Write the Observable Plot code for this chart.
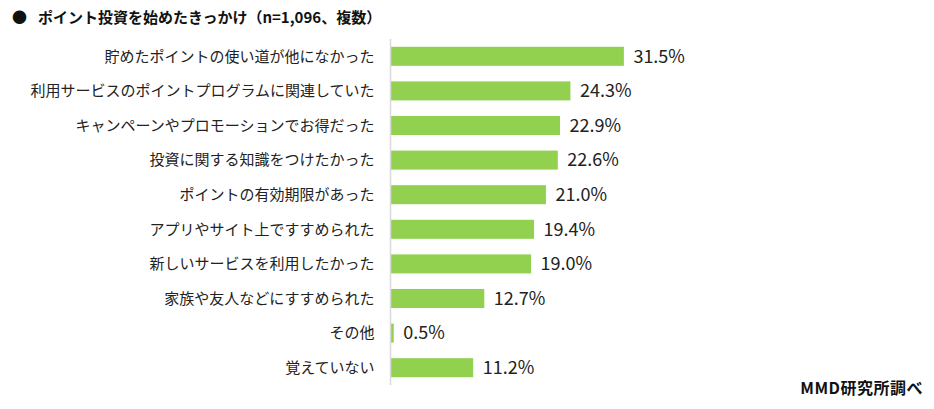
<!DOCTYPE html>
<html><head><meta charset="utf-8">
<script src="https://cdn.jsdelivr.net/npm/d3@7"></script>
<script src="https://cdn.jsdelivr.net/npm/@observablehq/plot@0.6"></script>
<style>
body{margin:0;background:#fff;font-family:"Noto Sans CJK JP",sans-serif;}
#wrap{position:relative;width:934px;height:409px;}
#title{position:absolute;left:12px;top:6px;font-size:15px;font-weight:bold;color:#111;white-space:nowrap;}
#title .b{display:inline-block;width:26px;}
#cap{position:absolute;right:11px;top:375px;font-size:16px;font-weight:bold;color:#111;letter-spacing:0.5px;}
</style></head><body>
<div id="wrap"><div id="chart"></div>
<div id="title"><span class="b">●</span>ポイント投資を始めたきっかけ（n=1,096、複数）</div>
<div id="cap">MMD研究所調べ</div></div>
<script>
const categories = ["貯めたポイントの使い道が他になかった","利用サービスのポイントプログラムに関連していた","キャンペーンやプロモーションでお得だった","投資に関する知識をつけたかった","ポイントの有効期限があった","アプリやサイト上ですすめられた","新しいサービスを利用したかった","家族や友人などにすすめられた","その他","覚えていない"];
const values = [31.5,24.3,22.9,22.6,21.0,19.4,19.0,12.7,0.5,11.2];
const data = categories.map((c,i)=>({cat:c,v:values[i]}));
const chart = Plot.plot({
  width:934, height:409,
  marginLeft:390, marginRight:247, marginTop:39, marginBottom:24,
  style:{fontFamily:'"Noto Sans CJK JP",sans-serif', color:"#222"},
  x:{domain:[0,40], axis:null},
  y:{domain:categories, paddingInner:0.45, paddingOuter:0.225, round:false, label:null},
  marks:[
    Plot.axisY({tickSize:0, tickPadding:16, fontSize:15, label:null, fill:"#222"}),
    Plot.barX(data,{x:"v", y:"cat", fill:"#92d050"}),
    Plot.ruleX([0],{stroke:"#d9d9d9", strokeWidth:1.5}),
    Plot.text(data,{x:"v", y:"cat", text:d=>d.v.toFixed(1)+"%", textAnchor:"start", dx:9, fontSize:18, fill:"#222"})
  ]
});
document.getElementById("chart").appendChild(chart);
</script></body></html>
